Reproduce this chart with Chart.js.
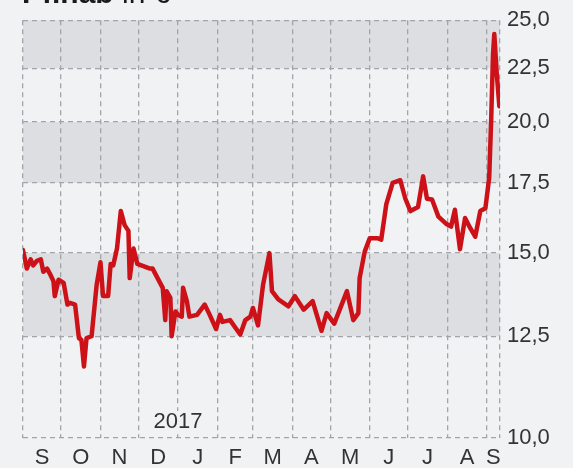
<!DOCTYPE html>
<html>
<head>
<meta charset="utf-8">
<script src="https://cdn.jsdelivr.net/npm/chart.js@4/dist/chart.umd.min.js"></script>
<style>
  html, body { margin: 0; padding: 0; background: #f1f2f4; }
  #wrap { position: relative; width: 573px; height: 468px; overflow: hidden; }
  #title { position: absolute; left: 22px; top: -22px; font-family: "Liberation Sans", Arial, sans-serif; font-size: 30px; line-height: 30px; color: #1a1a1a; white-space: nowrap; }
  #title b { font-weight: bold; }
  canvas { position: absolute; left: 0; top: 0; }
</style>
</head>
<body>
<div id="wrap">
  <canvas id="c" width="573" height="468"></canvas>
  <div id="title"><b>Pfinab</b> in €</div>
</div>
<script>
// Days since 1 Sep 2016
const days = [0,3,6,8,11,14,16,19,21,24,25,28,32,35,37,41,44,46,48,50,54,58,61,63,67,69,71,74,77,80,83,84,87,90,100,102,110,112,113,116,117,120,122,125,126,129,131,137,143,147,152,155,157,163,171,175,179,181,185,189,194,196,201,209,214,221,228,235,239,245,255,260,264,265,269,273,279,282,286,291,297,301,305,311,315,318,322,327,333,337,340,344,348,352,356,360,364,367,368.5,370,371,373,375];
const prices = [15.1,14.5,14.8,14.6,14.75,14.8,14.4,14.5,14.35,14.1,13.65,14.15,14.05,13.4,13.45,13.4,12.45,12.4,11.7,12.45,12.5,14.0,14.7,13.65,13.65,14.65,14.6,15.15,16.45,15.95,15.75,14.2,15.15,14.65,14.5,14.5,13.9,12.95,13.8,13.6,12.5,13.2,13.1,13.05,13.9,13.5,13.05,13.1,13.4,13.1,12.7,13.1,12.9,12.95,12.55,12.95,13.05,13.3,12.8,14.0,15.0,13.8,13.55,13.35,13.65,13.25,13.5,12.65,13.15,12.85,13.8,12.95,13.15,14.2,15.05,15.5,15.5,15.45,16.7,17.5,17.6,16.9,16.45,16.6,17.75,16.9,16.87,16.25,16.0,15.9,16.5,15.13,16.2,15.85,15.55,16.45,16.55,17.7,20.0,23.2,24.25,22.2,20.7];
const monthLabels = ['S','O','N','D','J','F','M','A','M','J','J','A','S'];
const monthStarts = [0,30,61,91,122,153,181,212,242,273,303,334,365];
const xEnd = 375.5;
const yTicks = [10,12.5,15,17.5,20,22.5,25];
const bands = [[12.5,15],[17.5,20],[22.5,25]];
const yearLabel = '2017';
const yearStartDay = 122;

const bounds = monthStarts.concat([xEnd]);
const mids = monthStarts.map((s,i)=> (s + bounds[i+1]) / 2);
const labelByValue = {};
mids.forEach((m,i)=>{ labelByValue[m] = monthLabels[i]; });
const allXTicks = bounds.concat(mids).sort((a,b)=>a-b);
const isBound = v => bounds.indexOf(v) >= 0;

const FONT = '"Liberation Sans", Arial, sans-serif';
const GRID = '#a2a4a8';

const bandPlugin = {
  id: 'bands',
  beforeDraw(chart) {
    const {ctx, chartArea: a, scales: {y}} = chart;
    ctx.save();
    ctx.fillStyle = '#dcdee1';
    bands.forEach(([lo,hi])=>{
      const t = y.getPixelForValue(hi), b = y.getPixelForValue(lo);
      ctx.fillRect(a.left, t, a.right - a.left, b - t);
    });
    ctx.restore();
  },
  afterDatasetsDraw(chart) {
    const {ctx, scales: {x, y}} = chart;
    ctx.save();
    ctx.font = '22px ' + FONT;
    const px = x.getPixelForValue(yearStartDay);
    const py = y.getPixelForValue(10) - 16;
    const w = ctx.measureText(yearLabel).width;
    ctx.fillStyle = '#f1f2f4';
    ctx.fillRect(px - w/2 - 1, py - 11, w + 2, 22);
    ctx.fillStyle = '#333';
    ctx.textAlign = 'center';
    ctx.textBaseline = 'middle';
    ctx.fillText(yearLabel, px, py);
    ctx.restore();
  }
};

new Chart(document.getElementById('c'), {
  type: 'line',
  data: {
    datasets: [{
      data: days.map((d,i)=>({x:d, y:prices[i]})),
      borderColor: '#cc1218',
      borderWidth: 4.5,
      pointRadius: 0,
      tension: 0,
      borderJoinStyle: 'round',
      borderCapStyle: 'round'
    }]
  },
  options: {
    responsive: false,
    animation: false,
    layout: { padding: { left: 23, top: 18, right: 0, bottom: 0 } },
    plugins: { legend: { display: false }, tooltip: { enabled: false } },
    scales: {
      x: {
        type: 'linear',
        min: 0,
        max: xEnd,
        afterBuildTicks: s => { s.ticks = allXTicks.map(v=>({value:v})); },
        afterFit: s => { s.height = 30; },
        grid: {
          drawTicks: false,
          lineWidth: 1.3,
          color: c => (c.tick && isBound(c.tick.value)) ? GRID : 'rgba(0,0,0,0)'
        },
        border: { display: false, dash: [5,4] },
        ticks: {
          autoSkip: false,
          maxRotation: 0,
          padding: 7,
          color: '#333',
          font: { family: FONT, size: 22 },
          callback: v => labelByValue[v] || ''
        }
      },
      y: {
        type: 'logarithmic',
        position: 'right',
        min: 10,
        max: 25,
        afterBuildTicks: s => { s.ticks = yTicks.map(v=>({value:v})); },
        afterFit: s => { s.width = 73; },
        grid: { drawTicks: false, lineWidth: 1.3, color: GRID },
        border: { display: false, dash: [5,4] },
        ticks: {
          autoSkip: false,
          padding: 7,
          color: '#333',
          font: { family: FONT, size: 22 },
          callback: v => Number(v).toFixed(1).replace('.', ',')
        }
      }
    }
  },
  plugins: [bandPlugin]
});
</script>
</body>
</html>
